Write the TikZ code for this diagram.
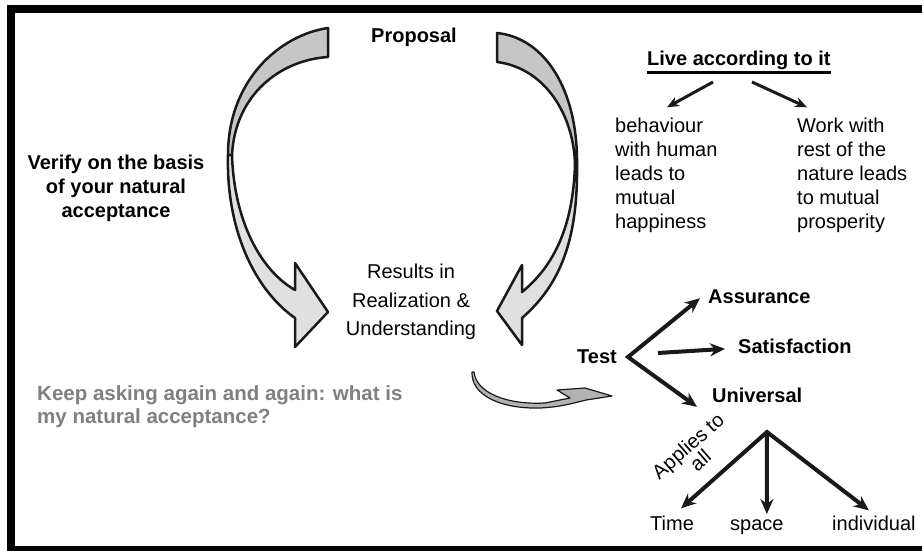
\documentclass[tikz,border=0pt]{standalone}
\usepackage{fontspec}
\setmainfont{Liberation Sans}
\usetikzlibrary{arrows.meta}

\begin{document}
\begin{tikzpicture}[x=1pt, y=-1pt,
    txt/.style={inner sep=0pt, font=\fontsize{20}{24}\selectfont},
    btxt/.style={inner sep=0pt, font=\fontsize{20}{24}\selectfont\bfseries},
    tarrow/.style={line width=4pt, draw=black!90, line join=miter, -{Stealth[length=15pt,width=13pt]}},
    larrow/.style={line width=3pt, draw=black!90, -{Stealth[length=12pt,width=10pt]}},
    curvearrow/.style={draw=black!90, line width=2.5pt, line join=round}]

    % Page and frame
    \useasboundingbox (0,0) rectangle (922,550);
    \fill[white] (0,0) rectangle (922,550);
    \draw[line width=8pt] (922,9) -- (11,9) -- (11,550) -- (922,550);

    % Left curved arrow
    \draw[curvearrow, fill=gray!45] (328,28) .. controls (280,35) and (228,80) .. (228,155)
        -- (232,155) .. controls (235,95) and (280,60) .. (328,57) -- cycle;
    \draw[curvearrow, fill=gray!24] (228,155) .. controls (226,230) and (255,290) .. (295,318)
        -- (295,347) -- (328,312) -- (295,263) -- (295,290)
        .. controls (260,270) and (234,220) .. (232,155) -- cycle;

    % Right curved arrow
    \draw[curvearrow, fill=gray!45] (497,33) .. controls (545,38) and (578,90) .. (577,165)
        -- (575,165) .. controls (574,115) and (545,68) .. (497,62) -- cycle;
    \draw[curvearrow, fill=gray!24] (577,165) .. controls (578,240) and (560,285) .. (522,318)
        -- (522,345) -- (497,311) -- (522,265) -- (522,292)
        .. controls (555,265) and (573,225) .. (575,165) -- cycle;

    % Small swoosh arrow
    \draw[draw=black!90, line width=1.2pt, fill=gray!60, line join=round]
        (474,372) .. controls (476,392) and (505,405) .. (545,403) -- (570,398)
        -- (557,390) -- (585,388) -- (612,396) -- (586,400)
        .. controls (570,404) and (560,407) .. (540,408)
        .. controls (500,409) and (471,395) .. (472,372) -- cycle;

    % Texts of the cycle (base = last line)
    \node[btxt, anchor=base] (prop) at (414,42) {Proposal};
    \node[btxt, align=center, anchor=base] (verify) at (116,217)
        {Verify on the basis\\of your natural\\acceptance};
    \node[txt, align=center, anchor=base] (result) at (411,335)
        {Results in\\[5pt]Realization \&\\[4pt]Understanding};
    \node[btxt, text=black!50, align=left, anchor=base west,
        font=\fontsize{20.5}{23}\selectfont\bfseries] (keep) at (37,423)
        {Keep asking again and again: what is\\my natural acceptance?};

    % Live according to it
    \node[btxt, anchor=base west] (live) at (647,65) {Live according to it};
    \draw[line width=3pt] ([yshift=-7pt]live.base west) -- ([yshift=-7pt]live.base east);
    \node[txt, align=left, anchor=base west] (behav) at (615,228)
        {behaviour\\with human\\leads to\\mutual\\happiness};
    \node[txt, align=left, anchor=base west] (work) at (797,228)
        {Work with\\rest of the\\nature leads\\to mutual\\prosperity};
    \coordinate (l1) at (713,82);
    \coordinate (l2) at (752,82);
    \draw[larrow] (l1) -- ([xshift=52pt,yshift=10pt]behav.north west);
    \draw[larrow] (l2) -- ([xshift=10pt,yshift=10pt]work.north west);

    % Test
    \node[btxt, anchor=base west] (test)  at (577,363) {Test};
    \node[btxt, anchor=base west] (assur) at (708,303) {Assurance};
    \node[btxt, anchor=base west] (satis) at (738,353) {Satisfaction};
    \node[btxt, anchor=base west] (univ)  at (712,402) {Universal};
    \coordinate (tv) at (628,357);
    \coordinate (sv) at (658,353);
    \draw[tarrow, {Stealth[length=15pt,width=13pt]}-{Stealth[length=15pt,width=13pt]}]
        ([xshift=-8pt,yshift=-2pt]assur.west) -- (tv) -- ([xshift=-15pt,yshift=-12pt]univ.west);
    \draw[tarrow] (sv) -- ([xshift=-13pt,yshift=-3pt]satis.west);

    % Universal
    \node[txt, anchor=base west] (time)  at (650,530) {Time};
    \node[txt, anchor=base west] (space) at (730,530) {space};
    \node[txt, anchor=base west] (indiv) at (832,530) {individual};
    \coordinate (uv) at (767,432);
    \draw[tarrow, {Stealth[length=15pt,width=13pt]}-{Stealth[length=15pt,width=13pt]}]
        ([xshift=9pt,yshift=7pt]time.north) -- (uv) -- ([xshift=-5pt,yshift=5pt]indiv.north);
    \draw[tarrow] (uv) -- ([xshift=10pt,yshift=5pt]space.north);
    \node[txt, align=center, rotate=41, font=\fontsize{20}{19}\selectfont] (appl) at (694,453)
        {Applies to\\all};

\end{tikzpicture}
\end{document}
